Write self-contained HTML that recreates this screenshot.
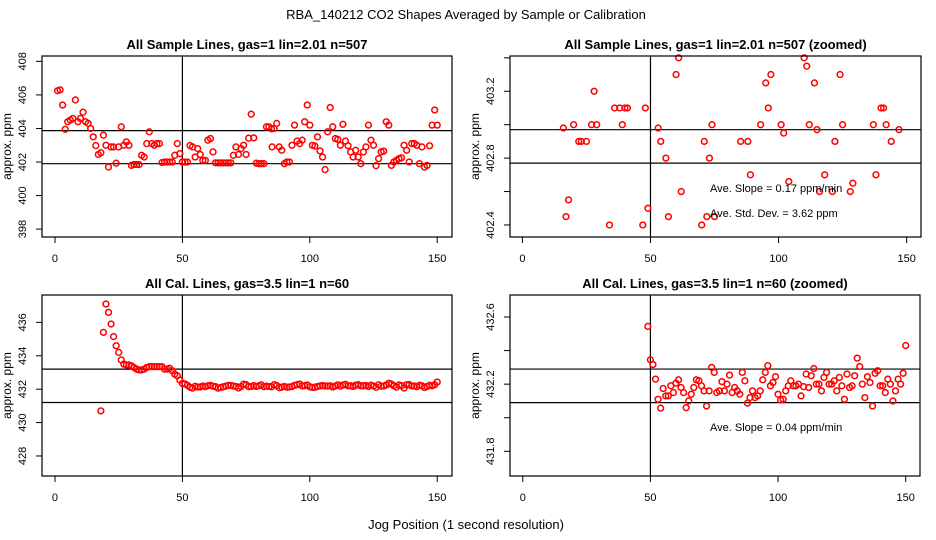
<!DOCTYPE html>
<html><head><meta charset="utf-8"><style>
html,body{margin:0;padding:0;background:#fff;width:936px;height:540px;overflow:hidden;}
svg{display:block;font-family:"Liberation Sans",Arial,sans-serif;}
</style></head><body>
<svg id="chart" width="936" height="540" viewBox="0 0 936 540" xmlns="http://www.w3.org/2000/svg">
<rect x="0" y="0" width="936" height="540" fill="#fff"/>
<text x="466" y="19" font-size="13" text-anchor="middle">RBA_140212  CO2 Shapes Averaged by Sample or Calibration</text>
<text x="466" y="529" font-size="13" text-anchor="middle">Jog Position (1 second resolution)</text>
</svg>
<script>
const sampleX = [1,2,3,4,5,6,7,8,9,10,11,12,13,14,15,16,17,18,19,20,21,22,23,24,25,26,27,28,29,30,31,32,33,34,35,36,37,38,39,40,41,42,43,44,45,46,47,48,49,50,51,52,53,54,55,56,57,58,59,60,61,62,63,64,65,66,67,68,69,70,71,72,73,74,75,76,77,78,79,80,81,82,83,84,85,85.2,86,87,88,89,90,91,92,93,94,95,96,97,98,99,100,101,102,103,104,105,106,107,108,109,110,111,112,113,114,115,116,117,118,119,120,121,122,123,124,125,126,127,128,129,130,131,132,133,134,135,136,137,138,139,140,141,142,143,144,145,146,147,148,149,150];
const sampleY = [406.25,406.3,405.4,403.95,404.4,404.5,404.6,405.7,404.4,404.6,404.97,404.4,404.3,404.0,403.5,402.98,402.45,402.55,403.6,403.0,401.7,402.9,402.9,401.93,402.9,404.1,403.0,403.2,403.0,401.8,401.85,401.85,401.85,402.4,402.3,403.1,403.8,403.1,403.0,403.1,403.1,401.97,402.0,402.0,402.0,402.0,402.4,403.1,402.5,402.0,402.0,402.0,402.98,402.9,402.3,402.8,402.45,402.1,402.1,403.3,403.4,402.6,401.95,401.95,401.95,401.95,401.95,401.95,401.95,402.4,402.9,402.45,402.8,403.0,402.45,403.42,404.85,403.44,401.93,401.9,401.9,401.9,404.1,404.1,403.98,402.9,404.0,404.3,402.9,402.7,401.9,402.0,402.0,403.0,404.2,403.25,403.1,403.3,404.4,405.4,404.2,403.0,402.95,403.5,402.66,402.3,401.55,403.8,405.25,404.1,403.4,403.35,403.0,404.25,403.25,402.97,402.6,402.3,402.7,402.3,401.9,402.6,402.9,404.2,403.3,403.0,401.78,402.2,402.6,402.65,404.4,404.2,401.8,402.0,402.1,402.2,402.25,403.0,402.7,402.0,403.1,403.1,403.0,401.9,402.9,401.7,401.8,402.97,404.2,405.1,404.2];
const calX = [18,19,20,21,22,23,24,25,26,27,28,29,30,31,32,33,34,35,36,37,38,39,40,41,42,43,44,45,46,47,48,49,50,51,52,53,54,55,56,57,58,59,60,61,62,63,64,65,66,67,68,69,70,71,72,73,74,75,76,77,78,79,80,81,82,83,84,85,86,87,88,89,90,91,92,93,94,95,96,97,98,99,100,101,102,103,104,105,106,107,108,109,110,111,112,113,114,115,116,117,118,119,120,121,122,123,124,125,126,127,128,129,130,131,132,133,134,135,136,137,138,139,140,141,142,143,144,145,146,147,148,149,150];
const calY = [430.7,435.4,437.1,436.6,435.9,435.15,434.6,434.2,433.75,433.5,433.45,433.45,433.4,433.3,433.2,433.15,433.15,433.2,433.3,433.35,433.35,433.35,433.35,433.35,433.35,433.2,433.2,433.25,433.1,432.9,432.8,432.544,432.345,432.317,432.23,432.11,432.057,432.174,432.13,432.13,432.19,432.15,432.206,432.226,432.18,432.15,432.06,432.1,432.14,432.18,432.226,432.22,432.19,432.16,432.07,432.16,432.3,432.27,432.15,432.16,432.215,432.16,432.2,432.254,432.15,432.18,432.16,432.14,432.27,432.22,432.087,432.12,432.16,432.12,432.13,432.16,432.226,432.27,432.31,432.19,432.21,432.245,432.14,432.106,432.11,432.16,432.19,432.22,432.19,432.19,432.2,432.13,432.185,432.26,432.18,432.25,432.293,432.2,432.2,432.16,432.24,432.27,432.2,432.2,432.22,432.16,432.24,432.19,432.11,432.26,432.18,432.19,432.25,432.355,432.305,432.2,432.12,432.245,432.21,432.07,432.265,432.28,432.19,432.19,432.15,432.23,432.2,432.1,432.16,432.23,432.2,432.265,432.43];
const xTicks = [0,50,100,150];
const p1YTicks = [398,400,402,404,406,408];
const p2YTicks = [402.4,402.6,402.8,403.0,403.2,403.4];
const p2YLabels = ["402.4","","402.8","","403.2",""];
const p3YTicks = [428,430,432,434,436];
const p4YTicks = [431.8,432.0,432.2,432.4,432.6];
const p4YLabels = ["431.8","","432.2","","432.6"];
const p1HLines = [403.87,401.9];
const p2HLines = [402.97,402.77];
const p3HLines = [433.2,431.2];
const p4HLines = [432.29,432.09];

const NS = "http://www.w3.org/2000/svg";
const svg = document.getElementById('chart');
function mk(tag, attrs, parent){
  const e = document.createElementNS(NS, tag);
  for (const k in attrs) e.setAttribute(k, attrs[k]);
  (parent||svg).appendChild(e);
  return e;
}
function panel(cfg){
  const g = mk('g', {});
  
  
  const sx = v => cfg.L + (v - cfg.xmin) / (cfg.xmax - cfg.xmin) * (cfg.R - cfg.L);
  const sy = v => cfg.B - (v - cfg.ymin) / (cfg.ymax - cfg.ymin) * (cfg.B - cfg.T);
  const t = mk('text', {x: (cfg.L + cfg.R) / 2, y: cfg.T - 7, 'font-size': 13, 'font-weight': 'bold', 'text-anchor': 'middle'}, g);
  
  
  t.textContent = cfg.title;
  const yl = mk('text', {x: 0, y: 0, 'font-size': 12, 'text-anchor': 'middle', transform: `translate(${cfg.L - 31},${(cfg.T + cfg.B) / 2}) rotate(-90)`}, g);
  
  
  yl.textContent = 'approx. ppm';
  xTicks.forEach(v => {
    const x = sx(v);
    const l = mk('line', {x1: x, x2: x, y1: cfg.B, y2: cfg.B + 6, stroke: '#000', 'stroke-width': 1}, g);
    
    
    const tx = mk('text', {x: x, y: cfg.B + 25, 'font-size': 11, 'text-anchor': 'middle'}, g);
    
    
    tx.textContent = String(v);
  });
  cfg.yTicks.forEach((v, i) => {
    const y = sy(v);
    const l = mk('line', {x1: cfg.L - 6, x2: cfg.L, y1: y, y2: y, stroke: '#000', 'stroke-width': 1}, g);
    
    
    const lab = cfg.yLabels ? cfg.yLabels[i] : String(v);
    if (lab) {
      const tx = mk('text', {x: 0, y: 0, 'font-size': 11, 'text-anchor': 'middle', transform: `translate(${cfg.L - 16},${y}) rotate(-90)`}, g);
      
      
      tx.textContent = lab;
    }
  });
  cfg.hlines.forEach(v => {
    const l = mk('line', {x1: cfg.L, x2: cfg.R, y1: sy(v), y2: sy(v), stroke: '#000', 'stroke-width': 1.2}, g);
    
    
  });
  const vl = mk('line', {x1: sx(50), x2: sx(50), y1: cfg.T, y2: cfg.B, stroke: '#000', 'stroke-width': 1.2}, g);
  
  
  const pg = mk('g', {}, g);
  cfg.xs.forEach((xv, i) => {
    const yv = cfg.ys[i];
    if (yv < cfg.ymin || yv > cfg.ymax || xv < cfg.xmin || xv > cfg.xmax) return;
    const c = mk('circle', {cx: sx(xv), cy: sy(yv), r: 2.9, fill: 'none', stroke: '#f00', 'stroke-width': 1.5}, pg);
    
    
  });
  const box = mk('rect', {x: cfg.L, y: cfg.T, width: cfg.R - cfg.L, height: cfg.B - cfg.T, fill: 'none', stroke: '#000', 'stroke-width': 1.2}, g);
  
  
  (cfg.notes || []).forEach(n => {
    const tx = mk('text', {x: n[0], y: n[1], 'font-size': 11, 'xml:space': 'preserve'}, g);
    
    
    tx.textContent = n[2];
  });
}
panel({name: 'panel-sample-lines', title: 'All Sample Lines, gas=1 lin=2.01 n=507', L: 42, R: 452, T: 56, B: 237,
  xmin: -5.1, xmax: 155.8, ymin: 397.53, ymax: 408.32, yTicks: p1YTicks, hlines: p1HLines, xs: sampleX, ys: sampleY});
panel({name: 'panel-sample-lines-zoomed', title: 'All Sample Lines, gas=1 lin=2.01 n=507 (zoomed)', L: 510, R: 921, T: 56, B: 237,
  xmin: -4.84, xmax: 155.6, ymin: 402.328, ymax: 403.411, yTicks: p2YTicks, yLabels: p2YLabels, hlines: p2HLines, xs: sampleX, ys: sampleY,
  notes: [[710, 192, 'Ave. Slope =  0.17  ppm/min'], [710, 217, 'Ave. Std. Dev. =  3.62  ppm']]});
panel({name: 'panel-cal-lines', title: 'All Cal. Lines, gas=3.5 lin=1 n=60', L: 42, R: 452, T: 295, B: 476,
  xmin: -5.1, xmax: 155.8, ymin: 426.8, ymax: 437.64, yTicks: p3YTicks, hlines: p3HLines, xs: calX, ys: calY});
panel({name: 'panel-cal-lines-zoomed', title: 'All Cal. Lines, gas=3.5 lin=1 n=60 (zoomed)', L: 510, R: 920, T: 295, B: 476,
  xmin: -5.0, xmax: 155.6, ymin: 431.653, ymax: 432.731, yTicks: p4YTicks, yLabels: p4YLabels, hlines: p4HLines, xs: calX, ys: calY,
  notes: [[710, 431, 'Ave. Slope =  0.04  ppm/min']]});
</script>
</body></html>
